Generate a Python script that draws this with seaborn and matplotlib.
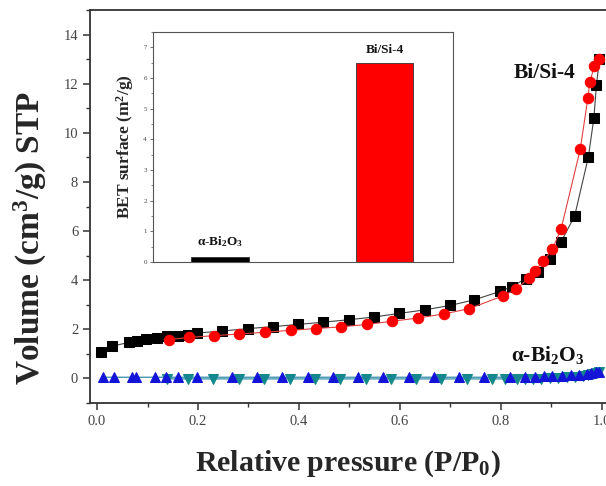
import matplotlib
matplotlib.use("Agg")
import matplotlib.pyplot as plt
import seaborn as sns
import pandas as pd
from matplotlib.ticker import MultipleLocator

# ---------------- data ----------------
bisi_ads_x = [0.007, 0.029, 0.064, 0.079, 0.098, 0.118, 0.139, 0.160, 0.180, 0.199,
              0.248, 0.300, 0.349, 0.399, 0.448, 0.499, 0.548, 0.599, 0.649, 0.699,
              0.747, 0.798, 0.821, 0.849, 0.874, 0.898, 0.919, 0.946, 0.973, 0.984,
              0.989, 0.995]
bisi_ads_y = [1.07, 1.31, 1.47, 1.54, 1.61, 1.65, 1.71, 1.73, 1.78, 1.85,
              1.93, 2.03, 2.11, 2.20, 2.29, 2.39, 2.50, 2.65, 2.79, 2.97,
              3.20, 3.54, 3.73, 4.06, 4.34, 4.86, 5.56, 6.62, 9.01, 10.60,
              11.93, 13.0]

bisi_des_x = [0.995, 0.985, 0.976, 0.972, 0.957, 0.919, 0.902, 0.884, 0.867, 0.855,
              0.830, 0.805, 0.737, 0.688, 0.636, 0.585, 0.535, 0.483, 0.433, 0.384,
              0.333, 0.282, 0.232, 0.182, 0.143]
bisi_des_y = [13.0, 12.71, 12.07, 11.40, 9.33, 6.08, 5.27, 4.78, 4.38, 4.08,
              3.63, 3.37, 2.84, 2.63, 2.46, 2.33, 2.20, 2.10, 2.03, 1.96,
              1.88, 1.81, 1.74, 1.67, 1.58]

bi2o3_ads_x = [0.012, 0.034, 0.069, 0.077, 0.114, 0.137, 0.161, 0.199, 0.267, 0.316,
               0.367, 0.417, 0.467, 0.517, 0.567, 0.618, 0.668, 0.717, 0.767, 0.818,
               0.848, 0.868, 0.885, 0.902, 0.921, 0.938, 0.955, 0.970, 0.979, 0.988,
               0.995]
bi2o3_ads_y = [0.05, 0.05, 0.05, 0.05, 0.05, 0.05, 0.05, 0.05, 0.05, 0.05,
               0.05, 0.05, 0.05, 0.05, 0.05, 0.05, 0.05, 0.05, 0.05, 0.05,
               0.06, 0.07, 0.08, 0.09, 0.10, 0.12, 0.15, 0.18, 0.22, 0.25,
               0.28]

bi2o3_des_x = [0.995, 0.990, 0.982, 0.972, 0.962, 0.947, 0.930, 0.913, 0.897, 0.880,
               0.863, 0.847, 0.832, 0.807, 0.783, 0.732, 0.681, 0.632, 0.582, 0.533,
               0.481, 0.432, 0.382, 0.331, 0.281, 0.230, 0.180, 0.138]
bi2o3_des_y = [0.26, 0.23, 0.19, 0.15, 0.11, 0.07, 0.04, 0.02, 0.00, -0.01,
               -0.02, -0.02, -0.02, -0.02, -0.02, -0.02, -0.02, -0.02, -0.02, -0.02,
               -0.02, -0.02, -0.02, -0.02, -0.02, -0.02, -0.02, -0.02]

bet_samples = ["α-Bi$_\\mathbf{2}$O$_\\mathbf{3}$", "Bi/Si-4"]
bet_values = [0.16, 6.5]

x_ticks = [0.0, 0.2, 0.4, 0.6, 0.8, 1.0]
y_ticks = [0, 2, 4, 6, 8, 10, 12, 14]
inset_ticks = [0, 1, 2, 3, 4, 5, 6, 7]

# ---------------- style ----------------
sns.set_style("ticks")
plt.rcParams["font.family"] = ["Liberation Serif", "DejaVu Serif"]
plt.rcParams["mathtext.fontset"] = "custom"
plt.rcParams["mathtext.rm"] = "Liberation Serif"
plt.rcParams["mathtext.bf"] = "Liberation Serif:bold"
plt.rcParams["mathtext.it"] = "Liberation Serif:italic"

fig = plt.figure(figsize=(6.06, 4.86), dpi=100)
ax = fig.add_axes([0.1485, 0.1708, 0.8515, 0.8086])

def draw(xs, ys, color, lcolor, marker, ms, z):
    df = pd.DataFrame({"x": xs, "y": ys})
    sns.lineplot(data=df, x="x", y="y", sort=False, estimator=None, ax=ax,
                 color=lcolor, lw=0.8, marker=marker, markersize=ms,
                 markerfacecolor=color, markeredgecolor=color, zorder=z)

draw(bi2o3_des_x, bi2o3_des_y, "#138a8a", "#1c7fa0", "v", 7, 3)
draw(bi2o3_ads_x, bi2o3_ads_y, "#1414d8", "#1c7fa0", "^", 7, 3)
draw(bisi_ads_x, bisi_ads_y, "#000000", "#444444", "s", 6.5, 4)
draw(bisi_des_x, bisi_des_y, "#ff0000", "#e04040", "o", 7.5, 5)

ax.set_xlim(-0.0139, 1.008)
ax.set_ylim(-1, 15)
ax.set_xticks(x_ticks)
ax.set_xticklabels([f"{v:.1f}" for v in x_ticks])
ax.set_yticks(y_ticks)
ax.xaxis.set_minor_locator(MultipleLocator(0.1))
ax.yaxis.set_minor_locator(MultipleLocator(1))
ax.tick_params(which="major", direction="out", length=5, width=1.1,
               labelsize=10.5, labelcolor="#444444", color="#333333")
ax.tick_params(which="minor", direction="out", length=3, width=1.0, color="#333333")
for s in ["left", "bottom", "top"]:
    ax.spines[s].set_linewidth(1.3)
    ax.spines[s].set_color("#333333")
ax.spines["right"].set_visible(False)

ax.set_xlabel("Relative pressure (P/P$_\\mathbf{0}$)", fontsize=21.5, fontweight="bold",
              labelpad=15)
ax.set_ylabel("Volume (cm$^\\mathbf{3}$/g) STP", fontsize=24, fontweight="bold")
ax.yaxis.set_label_coords(-0.08, 0.42)

ax.text(0.887, 12.45, "Bi/Si-4", fontsize=15.5, fontweight="bold", ha="center",
        va="center", color="#111111")
ax.text(0.893, 0.94, "α-Bi$_\\mathbf{2}$O$_\\mathbf{3}$", fontsize=15.5,
        fontweight="bold", ha="center", va="center", color="#111111")

# ---------------- inset ----------------
ins = fig.add_axes([0.2525, 0.4609, 0.495, 0.4733])
bdf = pd.DataFrame({"sample": bet_samples, "bet": bet_values})
sns.barplot(data=bdf, x="sample", y="bet", hue="sample",
            palette=["#000000", "#ff0000"], width=0.35, ax=ins, legend=False,
            edgecolor="#333333", linewidth=0.6, saturation=1)
ins.set_xlim(-0.405, 1.415)
ins.set_ylim(0, 7.5)
ins.set_yticks(inset_ticks)
ins.yaxis.set_minor_locator(MultipleLocator(0.5))
ins.set_xticks([])
ins.set_xlabel("")
ins.set_ylabel("BET surface (m$^\\mathbf{2}$/g)", fontsize=12.5, fontweight="bold",
               labelpad=5)
ins.tick_params(which="major", direction="out", length=2.5, width=0.6,
                labelsize=5, labelcolor="#444444", color="#555555", pad=2)
ins.tick_params(which="minor", direction="out", length=1.5, width=0.5, color="#555555")
for s in ins.spines.values():
    s.set_linewidth(0.8)
    s.set_color("#555555")
label_offsets = [0.5, 0.4]
for i, (lab, v, off) in enumerate(zip(bet_samples, bet_values, label_offsets)):
    ins.text(i, v + off, lab, fontsize=9.5, fontweight="bold", ha="center",
             va="center", color="#111111")

fig.savefig("out.png", dpi=100)
